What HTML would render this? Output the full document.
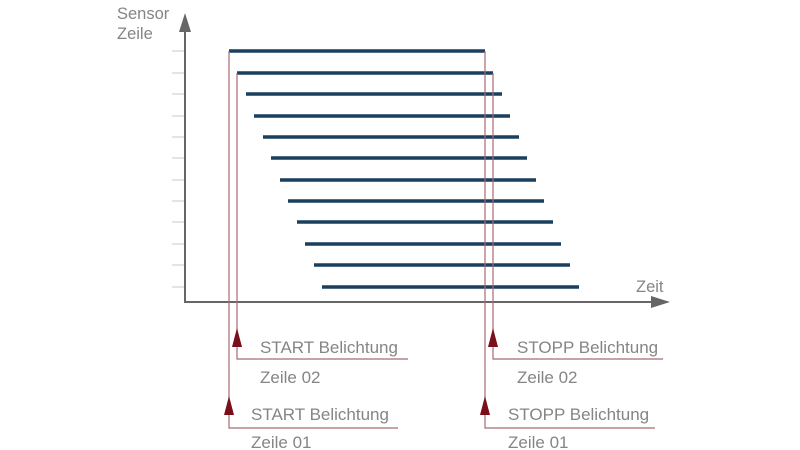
<!DOCTYPE html>
<html><head><style>html,body{margin:0;padding:0;background:#fff}svg{display:block}</style></head>
<body>
<svg width="800" height="450" xmlns="http://www.w3.org/2000/svg" font-family="Liberation Sans, sans-serif">
<rect width="800" height="450" fill="#fff"/>
<g stroke="#c8c8c8" stroke-width="1">
<line x1="172" y1="51" x2="185" y2="51"/><line x1="172" y1="73" x2="185" y2="73"/><line x1="172" y1="94" x2="185" y2="94"/><line x1="172" y1="116" x2="185" y2="116"/><line x1="172" y1="137" x2="185" y2="137"/><line x1="172" y1="158" x2="185" y2="158"/><line x1="172" y1="180" x2="185" y2="180"/><line x1="172" y1="201" x2="185" y2="201"/><line x1="172" y1="222" x2="185" y2="222"/><line x1="172" y1="244" x2="185" y2="244"/><line x1="172" y1="265" x2="185" y2="265"/><line x1="172" y1="287" x2="185" y2="287"/>
</g>
<g stroke="#1a3f5f" stroke-width="3.5">
<line x1="229" y1="51" x2="485" y2="51"/><line x1="237" y1="73" x2="493" y2="73"/><line x1="246" y1="94" x2="502" y2="94"/><line x1="254" y1="116" x2="510" y2="116"/><line x1="263" y1="137" x2="519" y2="137"/><line x1="271" y1="158" x2="527" y2="158"/><line x1="280" y1="180" x2="536" y2="180"/><line x1="288" y1="201" x2="544" y2="201"/><line x1="297" y1="222" x2="553" y2="222"/><line x1="305" y1="244" x2="561" y2="244"/><line x1="314" y1="265" x2="570" y2="265"/><line x1="322" y1="287" x2="579" y2="287"/>
</g>
<g stroke="#666" stroke-width="2" fill="none">
<polyline points="185,28 185,302 655,302"/>
</g>
<polygon points="185,13 179,32 191,32" fill="#666"/>
<polygon points="670,302 651,296 651,308" fill="#666"/>
<g stroke="#a86a70" stroke-width="1.2" fill="none">
<polyline points="229,51 229,428 398,428"/>
<polyline points="237,73 237,359 408,359"/>
<polyline points="485,51 485,428 655,428"/>
<polyline points="493,73 493,359 663,359"/>
</g>
<g fill="#7a0e1a">
<polygon points="229,396 224,415 234,415"/>
<polygon points="237,328 232,347 242,347"/>
<polygon points="485,396 480,415 490,415"/>
<polygon points="493,328 488,347 498,347"/>
</g>
<g fill="#858585" font-size="17">
<text x="117" y="19" font-size="16.5">Sensor</text>
<text x="117" y="39" font-size="16.5">Zeile</text>
<text x="636" y="292" font-size="16.5">Zeit</text>
<text x="260" y="353">START Belichtung</text>
<text x="260" y="383">Zeile 02</text>
<text x="251" y="420">START Belichtung</text>
<text x="251" y="448">Zeile 01</text>
<text x="517" y="353">STOPP Belichtung</text>
<text x="517" y="383">Zeile 02</text>
<text x="508" y="420">STOPP Belichtung</text>
<text x="508" y="448">Zeile 01</text>
</g>
</svg>
</body></html>
